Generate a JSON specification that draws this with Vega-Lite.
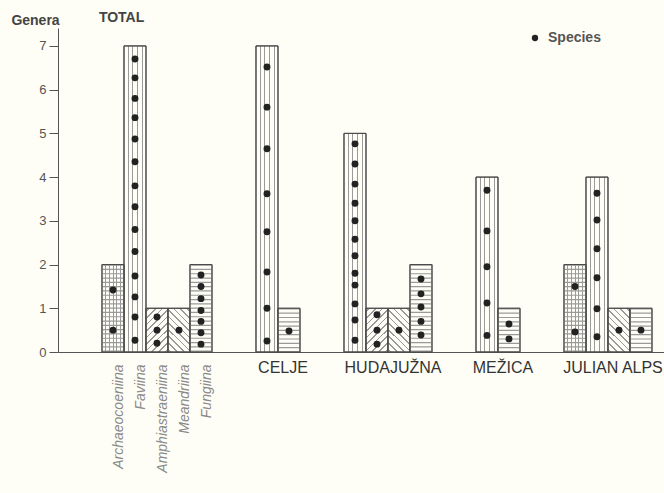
{
  "$schema": "https://vega.github.io/schema/vega-lite/v6.json",
  "width": 606,
  "height": 324,
  "autosize": {"type": "none"},
  "padding": {"left": 58, "top": 28, "right": 0, "bottom": 141},
  "background": "#fefef6",
  "config": {"view": {"stroke": null}, "font": "Liberation Sans"},
  "datasets": {
    "bars": [
      {"group": "TOTAL", "taxon": "Archaeocoeniina", "bar": "TOTAL Archaeocoeniina", "genera": 2},
      {"group": "TOTAL", "taxon": "Faviina", "bar": "TOTAL Faviina", "genera": 7},
      {"group": "TOTAL", "taxon": "Amphiastraeniina", "bar": "TOTAL Amphiastraeniina", "genera": 1},
      {"group": "TOTAL", "taxon": "Meandriina", "bar": "TOTAL Meandriina", "genera": 1},
      {"group": "TOTAL", "taxon": "Fungiina", "bar": "TOTAL Fungiina", "genera": 2},
      {"group": "CELJE", "taxon": "Faviina", "bar": "CELJE Faviina", "genera": 7},
      {"group": "CELJE", "taxon": "Fungiina", "bar": "CELJE Fungiina", "genera": 1},
      {"group": "HUDAJUŽNA", "taxon": "Faviina", "bar": "HUDAJUŽNA Faviina", "genera": 5},
      {"group": "HUDAJUŽNA", "taxon": "Amphiastraeniina", "bar": "HUDAJUŽNA Amphiastraeniina", "genera": 1},
      {"group": "HUDAJUŽNA", "taxon": "Meandriina", "bar": "HUDAJUŽNA Meandriina", "genera": 1},
      {"group": "HUDAJUŽNA", "taxon": "Fungiina", "bar": "HUDAJUŽNA Fungiina", "genera": 2},
      {"group": "MEŽICA", "taxon": "Faviina", "bar": "MEŽICA Faviina", "genera": 4},
      {"group": "MEŽICA", "taxon": "Fungiina", "bar": "MEŽICA Fungiina", "genera": 1},
      {"group": "JULIAN ALPS", "taxon": "Archaeocoeniina", "bar": "JULIAN ALPS Archaeocoeniina", "genera": 2},
      {"group": "JULIAN ALPS", "taxon": "Faviina", "bar": "JULIAN ALPS Faviina", "genera": 4},
      {"group": "JULIAN ALPS", "taxon": "Meandriina", "bar": "JULIAN ALPS Meandriina", "genera": 1},
      {"group": "JULIAN ALPS", "taxon": "Fungiina", "bar": "JULIAN ALPS Fungiina", "genera": 1}
    ],
    "species": [
      {"bar": "TOTAL Archaeocoeniina", "v": 1.42},
      {"bar": "TOTAL Archaeocoeniina", "v": 0.5},
      {"bar": "TOTAL Faviina", "v": 6.7},
      {"bar": "TOTAL Faviina", "v": 6.27},
      {"bar": "TOTAL Faviina", "v": 5.8},
      {"bar": "TOTAL Faviina", "v": 5.36},
      {"bar": "TOTAL Faviina", "v": 4.87},
      {"bar": "TOTAL Faviina", "v": 4.35},
      {"bar": "TOTAL Faviina", "v": 3.8},
      {"bar": "TOTAL Faviina", "v": 3.32},
      {"bar": "TOTAL Faviina", "v": 2.8},
      {"bar": "TOTAL Faviina", "v": 2.3},
      {"bar": "TOTAL Faviina", "v": 1.74},
      {"bar": "TOTAL Faviina", "v": 1.26},
      {"bar": "TOTAL Faviina", "v": 0.8},
      {"bar": "TOTAL Faviina", "v": 0.27},
      {"bar": "TOTAL Amphiastraeniina", "v": 0.8},
      {"bar": "TOTAL Amphiastraeniina", "v": 0.5},
      {"bar": "TOTAL Amphiastraeniina", "v": 0.2},
      {"bar": "TOTAL Meandriina", "v": 0.5},
      {"bar": "TOTAL Fungiina", "v": 1.76},
      {"bar": "TOTAL Fungiina", "v": 1.5},
      {"bar": "TOTAL Fungiina", "v": 1.22},
      {"bar": "TOTAL Fungiina", "v": 0.95},
      {"bar": "TOTAL Fungiina", "v": 0.7},
      {"bar": "TOTAL Fungiina", "v": 0.44},
      {"bar": "TOTAL Fungiina", "v": 0.18},
      {"bar": "CELJE Faviina", "v": 6.52},
      {"bar": "CELJE Faviina", "v": 5.6},
      {"bar": "CELJE Faviina", "v": 4.65},
      {"bar": "CELJE Faviina", "v": 3.62},
      {"bar": "CELJE Faviina", "v": 2.75},
      {"bar": "CELJE Faviina", "v": 1.83},
      {"bar": "CELJE Faviina", "v": 1.0},
      {"bar": "CELJE Faviina", "v": 0.25},
      {"bar": "CELJE Fungiina", "v": 0.48},
      {"bar": "HUDAJUŽNA Faviina", "v": 4.76},
      {"bar": "HUDAJUŽNA Faviina", "v": 4.3},
      {"bar": "HUDAJUŽNA Faviina", "v": 3.84},
      {"bar": "HUDAJUŽNA Faviina", "v": 3.4},
      {"bar": "HUDAJUŽNA Faviina", "v": 3.0},
      {"bar": "HUDAJUŽNA Faviina", "v": 2.58},
      {"bar": "HUDAJUŽNA Faviina", "v": 2.2},
      {"bar": "HUDAJUŽNA Faviina", "v": 1.8},
      {"bar": "HUDAJUŽNA Faviina", "v": 1.53},
      {"bar": "HUDAJUŽNA Faviina", "v": 1.1},
      {"bar": "HUDAJUŽNA Faviina", "v": 0.73},
      {"bar": "HUDAJUŽNA Faviina", "v": 0.27},
      {"bar": "HUDAJUŽNA Amphiastraeniina", "v": 0.85},
      {"bar": "HUDAJUŽNA Amphiastraeniina", "v": 0.5},
      {"bar": "HUDAJUŽNA Amphiastraeniina", "v": 0.18},
      {"bar": "HUDAJUŽNA Meandriina", "v": 0.5},
      {"bar": "HUDAJUŽNA Fungiina", "v": 1.67},
      {"bar": "HUDAJUŽNA Fungiina", "v": 1.33},
      {"bar": "HUDAJUŽNA Fungiina", "v": 1.03},
      {"bar": "HUDAJUŽNA Fungiina", "v": 0.7},
      {"bar": "HUDAJUŽNA Fungiina", "v": 0.39},
      {"bar": "MEŽICA Faviina", "v": 3.7},
      {"bar": "MEŽICA Faviina", "v": 2.77},
      {"bar": "MEŽICA Faviina", "v": 1.95},
      {"bar": "MEŽICA Faviina", "v": 1.12},
      {"bar": "MEŽICA Faviina", "v": 0.38},
      {"bar": "MEŽICA Fungiina", "v": 0.64},
      {"bar": "MEŽICA Fungiina", "v": 0.3},
      {"bar": "JULIAN ALPS Archaeocoeniina", "v": 1.5},
      {"bar": "JULIAN ALPS Archaeocoeniina", "v": 0.46},
      {"bar": "JULIAN ALPS Faviina", "v": 3.63},
      {"bar": "JULIAN ALPS Faviina", "v": 3.02},
      {"bar": "JULIAN ALPS Faviina", "v": 2.36},
      {"bar": "JULIAN ALPS Faviina", "v": 1.7},
      {"bar": "JULIAN ALPS Faviina", "v": 0.99},
      {"bar": "JULIAN ALPS Faviina", "v": 0.35},
      {"bar": "JULIAN ALPS Meandriina", "v": 0.5},
      {"bar": "JULIAN ALPS Fungiina", "v": 0.5}
    ],
    "glabels": [
      {"label": "CELJE", "bar": "CELJE Faviina"},
      {"label": "HUDAJUŽNA", "bar": "HUDAJUŽNA Amphiastraeniina"},
      {"label": "MEŽICA", "bar": "MEŽICA Faviina"},
      {"label": "JULIAN ALPS", "bar": "JULIAN ALPS Faviina"}
    ],
    "toplabel": [{"label": "TOTAL", "bar": "TOTAL Archaeocoeniina"}]
  },
  "encoding": {
    "x": {
      "field": "bar",
      "type": "nominal",
      "title": null,
      "scale": {
        "domain": ["g1", "g2", "TOTAL Archaeocoeniina", "TOTAL Faviina", "TOTAL Amphiastraeniina", "TOTAL Meandriina", "TOTAL Fungiina", "g3", "g4", "CELJE Faviina", "CELJE Fungiina", "g5", "g6", "HUDAJUŽNA Faviina", "HUDAJUŽNA Amphiastraeniina", "HUDAJUŽNA Meandriina", "HUDAJUŽNA Fungiina", "g7", "g8", "MEŽICA Faviina", "MEŽICA Fungiina", "g9", "g10", "JULIAN ALPS Archaeocoeniina", "JULIAN ALPS Faviina", "JULIAN ALPS Meandriina", "JULIAN ALPS Fungiina"],
        "paddingInner": 0,
        "paddingOuter": 0.273,
        "align": 0
      },
      "axis": {
        "title": null,
        "ticks": false,
        "tickSize": 0,
        "domainColor": "#555555",
        "labelExpr": "indexof(datum.value, 'TOTAL ') === 0 ? substring(datum.value, 6) : ''",
        "labelAngle": -90,
        "labelFont": "Liberation Sans",
        "labelFontStyle": "italic",
        "labelFontSize": 14,
        "labelColor": "#8a8a8a",
        "labelPadding": 12,
        "labelOffset": 6,
        "labelOverlap": false,
        "labelBound": false,
        "labelLimit": 0
      }
    }
  },
  "layer": [
    {
      "data": {"name": "bars"},
      "transform": [{"filter": "datum.taxon === 'Faviina'"}],
      "mark": {
        "type": "bar",
        "stroke": "#4a4a4a",
        "strokeWidth": 1,
        "fill": {
          "gradient": "linear", "x1": 0, "y1": 0, "x2": 1, "y2": 0,
          "stops": [
            {"offset": 0, "color": "#fefef6"}, {"offset": 0.18, "color": "#fefef6"},
            {"offset": 0.18, "color": "#9a9a9a"}, {"offset": 0.23, "color": "#9a9a9a"},
            {"offset": 0.23, "color": "#fefef6"}, {"offset": 0.38, "color": "#fefef6"},
            {"offset": 0.38, "color": "#9a9a9a"}, {"offset": 0.43, "color": "#9a9a9a"},
            {"offset": 0.43, "color": "#fefef6"}, {"offset": 0.6, "color": "#fefef6"},
            {"offset": 0.6, "color": "#9a9a9a"}, {"offset": 0.65, "color": "#9a9a9a"},
            {"offset": 0.65, "color": "#fefef6"}, {"offset": 0.8, "color": "#fefef6"},
            {"offset": 0.8, "color": "#9a9a9a"}, {"offset": 0.85, "color": "#9a9a9a"},
            {"offset": 0.85, "color": "#fefef6"}, {"offset": 1, "color": "#fefef6"}
          ]
        }
      },
      "encoding": {
        "y": {
          "field": "genera", "type": "quantitative",
          "scale": {"domain": [0, 7.41], "nice": false, "zero": true},
          "axis": {
            "title": "Genera",
            "values": [0, 1, 2, 3, 4, 5, 6, 7],
            "grid": false,
            "domainColor": "#555555",
            "tickColor": "#555555",
            "tickSize": 9,
            "labelPadding": 3,
            "labelFontSize": 13,
            "labelColor": "#555555",
            "titleAngle": 0,
            "titleAlign": "center",
            "titleBaseline": "alphabetic",
            "titleX": -23,
            "titleY": -4,
            "titleFontSize": 14,
            "titleFontWeight": "bold",
            "titleColor": "#444444"
          }
        }
      }
    },
    {
      "data": {"name": "bars"},
      "transform": [{"filter": "datum.taxon === 'Archaeocoeniina'"}],
      "mark": {
        "type": "bar",
        "stroke": "#4a4a4a",
        "strokeWidth": 1,
        "fill": {
          "gradient": "linear", "x1": 0, "y1": 0, "x2": 1, "y2": 0,
          "stops": [
            {"offset": 0, "color": "#fefef6"}, {"offset": 0.15, "color": "#fefef6"},
            {"offset": 0.15, "color": "#9a9a9a"}, {"offset": 0.2, "color": "#9a9a9a"},
            {"offset": 0.2, "color": "#fefef6"}, {"offset": 0.32, "color": "#fefef6"},
            {"offset": 0.32, "color": "#9a9a9a"}, {"offset": 0.37, "color": "#9a9a9a"},
            {"offset": 0.37, "color": "#fefef6"}, {"offset": 0.48, "color": "#fefef6"},
            {"offset": 0.48, "color": "#9a9a9a"}, {"offset": 0.53, "color": "#9a9a9a"},
            {"offset": 0.53, "color": "#fefef6"}, {"offset": 0.65, "color": "#fefef6"},
            {"offset": 0.65, "color": "#9a9a9a"}, {"offset": 0.7, "color": "#9a9a9a"},
            {"offset": 0.7, "color": "#fefef6"}, {"offset": 0.81, "color": "#fefef6"},
            {"offset": 0.81, "color": "#9a9a9a"}, {"offset": 0.86, "color": "#9a9a9a"},
            {"offset": 0.86, "color": "#fefef6"}, {"offset": 1, "color": "#fefef6"}
          ]
        }
      },
      "encoding": {"y": {"field": "genera", "type": "quantitative"}}
    },
    {
      "data": {"name": "bars"},
      "transform": [{"filter": "datum.taxon === 'Amphiastraeniina'"}],
      "mark": {
        "type": "bar",
        "stroke": "#4a4a4a",
        "strokeWidth": 1,
        "fill": {
          "gradient": "linear", "x1": 0, "y1": 0, "x2": 0.6, "y2": 1.2,
          "stops": [
            {"offset": 0, "color": "#fefef6"}, {"offset": 0.04, "color": "#fefef6"},
            {"offset": 0.04, "color": "#9a9a9a"}, {"offset": 0.065, "color": "#9a9a9a"},
            {"offset": 0.065, "color": "#fefef6"}, {"offset": 0.14, "color": "#fefef6"},
            {"offset": 0.14, "color": "#9a9a9a"}, {"offset": 0.165, "color": "#9a9a9a"},
            {"offset": 0.165, "color": "#fefef6"}, {"offset": 0.24, "color": "#fefef6"},
            {"offset": 0.24, "color": "#9a9a9a"}, {"offset": 0.265, "color": "#9a9a9a"},
            {"offset": 0.265, "color": "#fefef6"}, {"offset": 0.34, "color": "#fefef6"},
            {"offset": 0.34, "color": "#9a9a9a"}, {"offset": 0.365, "color": "#9a9a9a"},
            {"offset": 0.365, "color": "#fefef6"}, {"offset": 0.44, "color": "#fefef6"},
            {"offset": 0.44, "color": "#9a9a9a"}, {"offset": 0.465, "color": "#9a9a9a"},
            {"offset": 0.465, "color": "#fefef6"}, {"offset": 0.54, "color": "#fefef6"},
            {"offset": 0.54, "color": "#9a9a9a"}, {"offset": 0.565, "color": "#9a9a9a"},
            {"offset": 0.565, "color": "#fefef6"}, {"offset": 0.64, "color": "#fefef6"},
            {"offset": 0.64, "color": "#9a9a9a"}, {"offset": 0.665, "color": "#9a9a9a"},
            {"offset": 0.665, "color": "#fefef6"}, {"offset": 0.74, "color": "#fefef6"},
            {"offset": 0.74, "color": "#9a9a9a"}, {"offset": 0.765, "color": "#9a9a9a"},
            {"offset": 0.765, "color": "#fefef6"}, {"offset": 0.84, "color": "#fefef6"},
            {"offset": 0.84, "color": "#9a9a9a"}, {"offset": 0.865, "color": "#9a9a9a"},
            {"offset": 0.865, "color": "#fefef6"}, {"offset": 0.94, "color": "#fefef6"},
            {"offset": 0.94, "color": "#9a9a9a"}, {"offset": 0.965, "color": "#9a9a9a"},
            {"offset": 0.965, "color": "#fefef6"}, {"offset": 1, "color": "#fefef6"}
          ]
        }
      },
      "encoding": {"y": {"field": "genera", "type": "quantitative"}}
    },
    {
      "data": {"name": "bars"},
      "transform": [{"filter": "datum.taxon === 'Meandriina'"}],
      "mark": {
        "type": "bar",
        "stroke": "#4a4a4a",
        "strokeWidth": 1,
        "fill": {
          "gradient": "linear", "x1": 1, "y1": 0, "x2": 0.4, "y2": 1.2,
          "stops": [
            {"offset": 0, "color": "#fefef6"}, {"offset": 0.04, "color": "#fefef6"},
            {"offset": 0.04, "color": "#9a9a9a"}, {"offset": 0.065, "color": "#9a9a9a"},
            {"offset": 0.065, "color": "#fefef6"}, {"offset": 0.14, "color": "#fefef6"},
            {"offset": 0.14, "color": "#9a9a9a"}, {"offset": 0.165, "color": "#9a9a9a"},
            {"offset": 0.165, "color": "#fefef6"}, {"offset": 0.24, "color": "#fefef6"},
            {"offset": 0.24, "color": "#9a9a9a"}, {"offset": 0.265, "color": "#9a9a9a"},
            {"offset": 0.265, "color": "#fefef6"}, {"offset": 0.34, "color": "#fefef6"},
            {"offset": 0.34, "color": "#9a9a9a"}, {"offset": 0.365, "color": "#9a9a9a"},
            {"offset": 0.365, "color": "#fefef6"}, {"offset": 0.44, "color": "#fefef6"},
            {"offset": 0.44, "color": "#9a9a9a"}, {"offset": 0.465, "color": "#9a9a9a"},
            {"offset": 0.465, "color": "#fefef6"}, {"offset": 0.54, "color": "#fefef6"},
            {"offset": 0.54, "color": "#9a9a9a"}, {"offset": 0.565, "color": "#9a9a9a"},
            {"offset": 0.565, "color": "#fefef6"}, {"offset": 0.64, "color": "#fefef6"},
            {"offset": 0.64, "color": "#9a9a9a"}, {"offset": 0.665, "color": "#9a9a9a"},
            {"offset": 0.665, "color": "#fefef6"}, {"offset": 0.74, "color": "#fefef6"},
            {"offset": 0.74, "color": "#9a9a9a"}, {"offset": 0.765, "color": "#9a9a9a"},
            {"offset": 0.765, "color": "#fefef6"}, {"offset": 0.84, "color": "#fefef6"},
            {"offset": 0.84, "color": "#9a9a9a"}, {"offset": 0.865, "color": "#9a9a9a"},
            {"offset": 0.865, "color": "#fefef6"}, {"offset": 0.94, "color": "#fefef6"},
            {"offset": 0.94, "color": "#9a9a9a"}, {"offset": 0.965, "color": "#9a9a9a"},
            {"offset": 0.965, "color": "#fefef6"}, {"offset": 1, "color": "#fefef6"}
          ]
        }
      },
      "encoding": {"y": {"field": "genera", "type": "quantitative"}}
    },
    {
      "data": {"name": "bars"},
      "transform": [{"filter": "datum.taxon === 'Fungiina'"}],
      "mark": {"type": "bar", "stroke": "#4a4a4a", "strokeWidth": 1, "fill": "#fefef6"},
      "encoding": {"y": {"field": "genera", "type": "quantitative"}}
    },
    {
      "data": {"name": "bars"},
      "transform": [{"filter": "datum.taxon === 'Fungiina' || datum.taxon === 'Archaeocoeniina'"}],
      "mark": {"type": "rule", "stroke": "#9a9a9a", "strokeWidth": 21, "strokeDash": [1.2, 3.1], "strokeCap": "butt"},
      "encoding": {
        "y": {"field": "genera", "type": "quantitative"},
        "y2": {"datum": 0}
      }
    },
    {
      "data": {"name": "bars"},
      "mark": {"type": "bar", "stroke": "#4a4a4a", "strokeWidth": 1, "fillOpacity": 0, "fill": "#ffffff"},
      "encoding": {"y": {"field": "genera", "type": "quantitative"}}
    },
    {
      "data": {"name": "species"},
      "mark": {"type": "point", "filled": true, "shape": "circle", "size": 48, "opacity": 1},
      "encoding": {
        "y": {"field": "v", "type": "quantitative"},
        "color": {
          "datum": "Species",
          "type": "nominal",
          "scale": {"range": ["#222222"]},
          "legend": {
            "title": null,
            "orient": "none",
            "legendX": 470,
            "legendY": 3,
            "labelFontSize": 14,
            "labelFontWeight": "bold",
            "labelColor": "#555555",
            "labelOffset": 6,
            "symbolSize": 40,
            "symbolType": "circle",
            "symbolStrokeWidth": 0
          }
        }
      }
    },
    {
      "data": {"name": "glabels"},
      "mark": {"type": "text", "fontSize": 16, "color": "#333333", "baseline": "middle", "align": "center", "dy": 16, "dx": 5},
      "encoding": {
        "x": {
          "field": "bar", "type": "nominal", "bandPosition": 1, "title": null,
          "axis": {
            "title": null,
            "ticks": false,
            "tickSize": 0,
            "domainColor": "#555555",
            "labelExpr": "indexof(datum.value, 'TOTAL ') === 0 ? substring(datum.value, 6) : ''",
            "labelAngle": -90,
            "labelFont": "Liberation Sans",
            "labelFontStyle": "italic",
            "labelFontSize": 14,
            "labelColor": "#8a8a8a",
            "labelPadding": 12,
            "labelOffset": 6,
            "labelOverlap": false,
            "labelBound": false,
            "labelLimit": 0
          }
        },
        "y": {"datum": 0, "type": "quantitative"},
        "text": {"field": "label"}
      }
    },
    {
      "data": {"name": "toplabel"},
      "mark": {"type": "text", "fontSize": 14, "fontWeight": "bold", "color": "#444444", "baseline": "middle", "align": "center", "dy": -10},
      "encoding": {
        "x": {
          "field": "bar", "type": "nominal", "bandPosition": 0.89, "title": null,
          "axis": {
            "title": null,
            "ticks": false,
            "tickSize": 0,
            "domainColor": "#555555",
            "labelExpr": "indexof(datum.value, 'TOTAL ') === 0 ? substring(datum.value, 6) : ''",
            "labelAngle": -90,
            "labelFont": "Liberation Sans",
            "labelFontStyle": "italic",
            "labelFontSize": 14,
            "labelColor": "#8a8a8a",
            "labelPadding": 12,
            "labelOffset": 6,
            "labelOverlap": false,
            "labelBound": false,
            "labelLimit": 0
          }
        },
        "y": {"datum": 7.41, "type": "quantitative"},
        "text": {"field": "label"}
      }
    }
  ]
}
